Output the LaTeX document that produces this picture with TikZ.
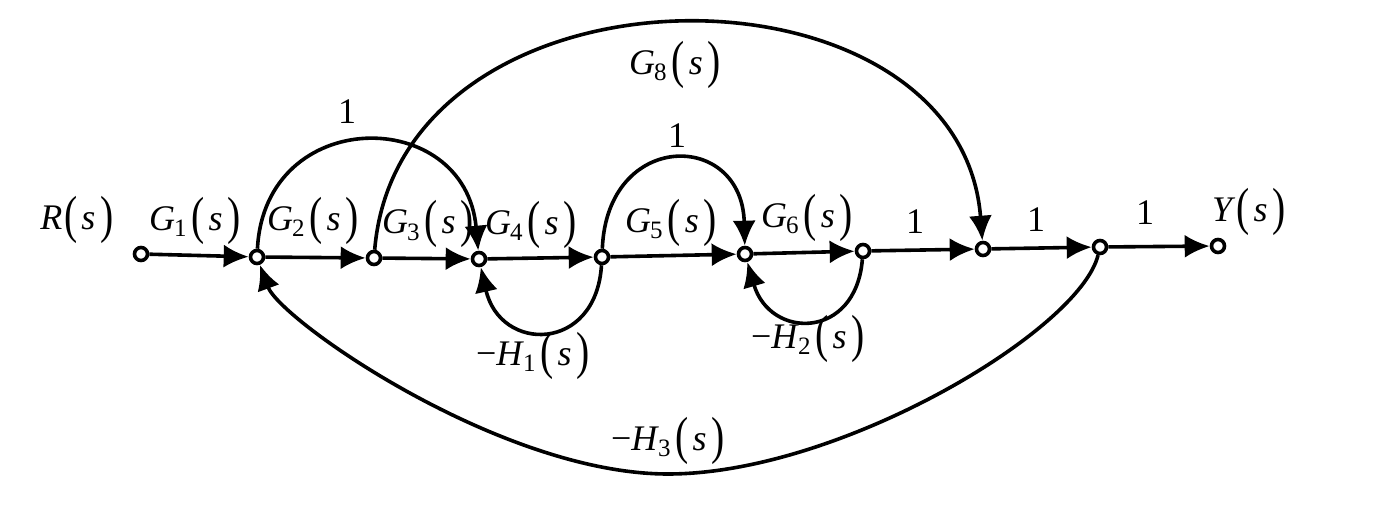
\documentclass[tikz,border=0pt]{standalone}
\usepackage{fontspec}
\setmainfont{Liberation Serif}
\usepackage{graphicx}
\usetikzlibrary{arrows.meta}
\newcommand{\pl}{\raisebox{-3pt}{\scalebox{1.1}[1.45]{(}}}
\newcommand{\pr}{\raisebox{-3pt}{\scalebox{1.1}[1.45]{)}}}
\newcommand{\bp}[1]{\pl\kern4pt#1\kern5pt\pr}
\newcommand{\sub}[1]{\raisebox{-6pt}{\fontsize{25}{25}\selectfont #1}}
\newcommand{\tfn}[2]{\textit{#1}\kern-1pt\sub{#2}\kern5pt\bp{\textit{s}}}
\begin{document}
\begin{tikzpicture}[x=1pt,y=-1pt,
  sn/.style={circle,draw,fill=white,line width=3.6pt,minimum size=13pt,inner sep=0pt},
  br/.style={line width=3.6pt,-{Latex[length=25pt,width=23pt]}},
  lb/.style={anchor=base,inner sep=0pt,font=\fontsize{36}{38}\selectfont}]
\useasboundingbox (0,0) rectangle (1374,505);
% signal nodes
\node[sn] (n1) at (141,254) {};
\node[sn] (n2) at (257,257) {};
\node[sn] (n3) at (374,258) {};
\node[sn] (n4) at (479,259) {};
\node[sn] (n5) at (602,257) {};
\node[sn] (n6) at (745,254) {};
\node[sn] (n7) at (863,251) {};
\node[sn] (n8) at (983,249) {};
\node[sn] (n9) at (1100,247) {};
\node[sn] (n10) at (1218,246) {};
\coordinate (b3) at (668,474);
% forward branches
\draw[br] (n1) -- (n2);
\draw[br] (n2) -- (n3);
\draw[br] (n3) -- (n4);
\draw[br] (n4) -- (n5);
\draw[br] (n5) -- (n6);
\draw[br] (n6) -- (n7);
\draw[br] (n7) -- (n8);
\draw[br] (n8) -- (n9);
\draw[br] (n9) -- (n10);
% arcs
\draw[br] (n2) .. controls (265,105) and (465,105) .. (n4);
\draw[br] (n3) .. controls (400,-50) and (960,-50) .. (n8);
\draw[br] (n5) .. controls (607,130) and (742,130) .. (n6);
\draw[br] (n5) .. controls (596,353) and (500,353) .. (n4);
\draw[br] (n7) .. controls (856,340) and (770,340) .. (n6);
\draw[br] (n9) .. controls (1080,330) and (840,474) .. (b3) .. controls (500,474) and (280,320) .. (n2);
% labels
\node[lb] (lR) at (77,230) {\textit{R}\kern2pt\bp{\textit{s}}};
\node[lb] (l1) at (195,231) {\tfn{G}{1}};
\node[lb] (l2) at (313,231) {\tfn{G}{2}};
\node[lb] (l3) at (428,234) {\tfn{G}{3}};
\node[lb] (l4) at (531,235) {\tfn{G}{4}};
\node[lb] (l5) at (671,233) {\tfn{G}{5}};
\node[lb] (l6) at (807,228) {\tfn{G}{6}};
\node[lb] (l7) at (915,234) {1};
\node[lb] (l8) at (1036,232) {1};
\node[lb] (l9) at (1145,225) {1};
\node[lb] (lY) at (1249,222) {\textit{Y}\kern1pt\bp{\textit{s}}};
\node[lb] (la) at (347,124) {1};
\node[lb] (lg8) at (675,75) {\tfn{G}{8}};
\node[lb] (lb56) at (677,148) {1};
\node[lb] (lh1) at (533,365) {\textminus\tfn{H}{1}};
\node[lb] (lh2) at (808,348) {\textminus\tfn{H}{2}};
\node[lb] (lh3) at (668,450) {\textminus\tfn{H}{3}};
\end{tikzpicture}
\end{document}
